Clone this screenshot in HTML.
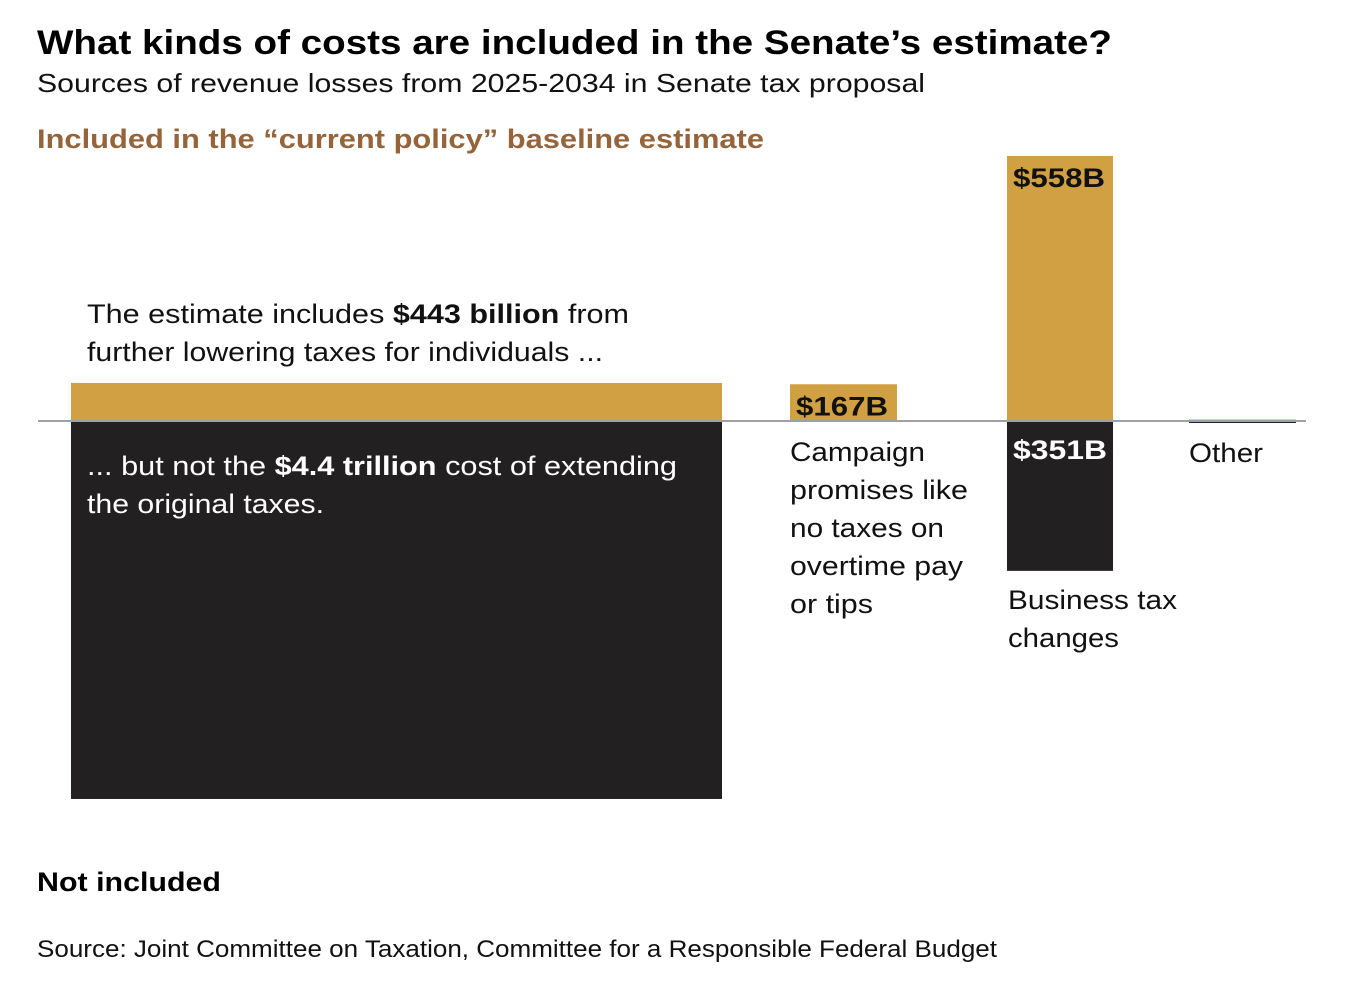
<!DOCTYPE html>
<html><head><meta charset="utf-8"><style>
html,body{margin:0;padding:0;background:#fff;}
svg{display:block;font-family:"Liberation Sans",sans-serif;}
</style></head><body>
<svg id="chart" width="1352" height="982" viewBox="0 0 1352 982" xmlns="http://www.w3.org/2000/svg">
<text x="37" y="54" font-size="34" font-weight="bold" fill="#000" textLength="1075" lengthAdjust="spacingAndGlyphs">What kinds of costs are included in the Senate’s estimate?</text>
<text x="37" y="92" font-size="26" fill="#111" textLength="888" lengthAdjust="spacingAndGlyphs">Sources of revenue losses from 2025-2034 in Senate tax proposal</text>
<text x="37" y="148" font-size="27" font-weight="bold" fill="#95643b" textLength="727" lengthAdjust="spacingAndGlyphs">Included in the “current policy” baseline estimate</text>
<g id="bars"></g>
<line x1="38" x2="1306" y1="421" y2="421" stroke="#a0a0a0" stroke-width="2"/>
<g id="labels">
<text x="87" y="323" font-size="27" fill="#111" textLength="542" lengthAdjust="spacingAndGlyphs">The estimate includes <tspan font-weight="bold">$443 billion</tspan> from</text>
<text x="87" y="361" font-size="27" fill="#111" textLength="516" lengthAdjust="spacingAndGlyphs">further lowering taxes for individuals ...</text>
<text x="87" y="475" font-size="27" fill="#fff" textLength="590" lengthAdjust="spacingAndGlyphs">... but not the <tspan font-weight="bold">$4.4 trillion</tspan> cost of extending</text>
<text x="87" y="513" font-size="27" fill="#fff" textLength="237" lengthAdjust="spacingAndGlyphs">the original taxes.</text>
<text x="790" y="461" font-size="27" fill="#111" textLength="135" lengthAdjust="spacingAndGlyphs">Campaign</text>
<text x="790" y="499" font-size="27" fill="#111" textLength="178" lengthAdjust="spacingAndGlyphs">promises like</text>
<text x="790" y="537" font-size="27" fill="#111" textLength="154" lengthAdjust="spacingAndGlyphs">no taxes on</text>
<text x="790" y="575" font-size="27" fill="#111" textLength="173" lengthAdjust="spacingAndGlyphs">overtime pay</text>
<text x="790" y="613" font-size="27" fill="#111" textLength="83" lengthAdjust="spacingAndGlyphs">or tips</text>
<text x="1008" y="609" font-size="27" fill="#111" textLength="169" lengthAdjust="spacingAndGlyphs">Business tax</text>
<text x="1008" y="647" font-size="27" fill="#111" textLength="111" lengthAdjust="spacingAndGlyphs">changes</text>
<text x="1189" y="462" font-size="27" fill="#111" textLength="74" lengthAdjust="spacingAndGlyphs">Other</text>
</g>
<text x="37" y="891" font-size="27" font-weight="bold" fill="#000" textLength="184" lengthAdjust="spacingAndGlyphs">Not included</text>
<text x="37" y="957" font-size="24" fill="#111" textLength="960" lengthAdjust="spacingAndGlyphs">Source: Joint Committee on Taxation, Committee for a Responsible Federal Budget</text>
</svg>
<script>
const categories = ["individuals", "campaign", "business", "other"];
const includedValues = [443, 167, 558, 3];
const notIncludedValues = [4400, 0, 351, 3];
const includedLabels = ["", "$167B", "$558B", ""];
const notIncludedLabels = ["", "", "$351B", ""];

const NS = "http://www.w3.org/2000/svg";
const zeroY = 421;
const colX = [71, 790, 1007, 1189];
const colW = [651, 107, 106, 107];
const upScale = [0.0859, 0.22, 0.475, 0.475];
const dnScale = [0.0859, 0.22, 0.427, 0.427];
function upHeight(i, v) { return v * upScale[i]; }
function dnHeight(i, v) { return v * dnScale[i]; }

const gBars = document.getElementById("bars");
const gLab = document.getElementById("labels");
categories.forEach((c, i) => {
  const hUp = Math.max(upHeight(i, includedValues[i]), includedValues[i] > 0 ? 1.5 : 0);
  const up = document.createElementNS(NS, "rect");
  up.setAttribute("x", colX[i]); up.setAttribute("y", zeroY - hUp);
  up.setAttribute("width", colW[i]); up.setAttribute("height", hUp);
  up.setAttribute("fill", "#d1a042");
  
  
  gBars.appendChild(up);
  const hDn = Math.max(dnHeight(i, notIncludedValues[i]), notIncludedValues[i] > 0 ? 2 : 0);
  if (hDn > 0) {
    const dn = document.createElementNS(NS, "rect");
    dn.setAttribute("x", colX[i]); dn.setAttribute("y", zeroY);
    dn.setAttribute("width", colW[i]); dn.setAttribute("height", hDn);
    dn.setAttribute("fill", "#232021");
    
    
    gBars.appendChild(dn);
  }
  if (includedLabels[i]) {
    const t = document.createElementNS(NS, "text");
    t.setAttribute("x", colX[i] + 6);
    t.setAttribute("y", zeroY - hUp + 31);
    t.setAttribute("font-size", "27"); t.setAttribute("font-weight", "bold");
    t.setAttribute("fill", "#111");
    t.setAttribute("textLength", "92"); t.setAttribute("lengthAdjust", "spacingAndGlyphs");
    t.textContent = includedLabels[i];
    
    
    gLab.appendChild(t);
  }
  if (notIncludedLabels[i]) {
    const t = document.createElementNS(NS, "text");
    t.setAttribute("x", colX[i] + 6);
    t.setAttribute("y", zeroY + 38);
    t.setAttribute("font-size", "27"); t.setAttribute("font-weight", "bold");
    t.setAttribute("fill", "#fff");
    t.setAttribute("textLength", "94"); t.setAttribute("lengthAdjust", "spacingAndGlyphs");
    t.textContent = notIncludedLabels[i];
    
    
    gLab.appendChild(t);
  }
});
</script>
</body></html>
